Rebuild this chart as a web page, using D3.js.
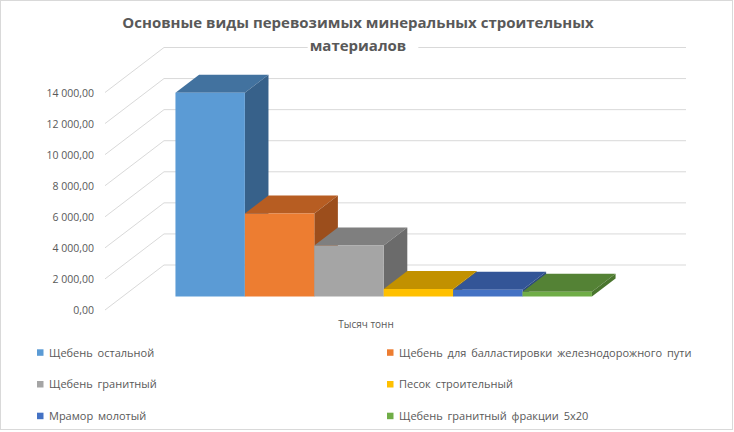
<!DOCTYPE html>
<html>
<head>
<meta charset="utf-8">
<script src="https://cdn.jsdelivr.net/npm/d3@7"></script>
<style>
  body { margin: 0; background: #fff; }
  svg { display: block; font-family: "Open Sans", "Noto Sans", sans-serif; }
</style>
</head>
<body>
<div id="chart"></div>
<script>
// data
var categories = [
  "Щебень остальной",
  "Щебень для балластировки железнодорожного пути",
  "Щебень гранитный",
  "Песок строительный",
  "Мрамор молотый",
  "Щебень гранитный фракции 5х20"
];
var values = [13120, 5350, 3290, 480, 430, 300];
var yTicks = [0, 2000, 4000, 6000, 8000, 10000, 12000, 14000];
var frontColors = ["#5B9BD5", "#ED7D31", "#A5A5A5", "#FFC000", "#4472C4", "#70AD47"];
var topColors   = ["#42729F", "#B75D22", "#7F7F7F", "#C29100", "#335597", "#548235"];
var sideColors  = ["#37618A", "#9C4E1C", "#6B6B6B", "#A37A00", "#2C4A80", "#4A752E"];
var titleLines = ["Основные виды перевозимых минеральных строительных", "материалов"];
var axisTitle = "Тысяч тонн";

var W = 734, H = 432;
var svg = d3.select("#chart").append("svg").attr("width", W).attr("height", H);

// chart frame
svg.append("rect").attr("x", 0.5).attr("y", 0.5).attr("width", W - 2).attr("height", H - 3)
  .attr("fill", "#fff").attr("stroke", "#D9D9D9");

// 3D depth offsets (front plane -> back wall)
var DX = 59, DY = 45;
var barD0 = 0.3, barD1 = 0.7;

var x = d3.scaleBand().domain(categories).range([105, 627]).paddingInner(0).paddingOuter(0.76);
var y = d3.scaleLinear().domain([0, 14000]).range([310, 92.5]);

function P(px, py, d) { return [px + d * DX, py - d * DY]; }

var ru = d3.formatLocale({ decimal: ",", thousands: " ", grouping: [3], currency: ["", ""] });
var fmt = ru.format(",.2f");

// gridlines: side wall diagonal + back wall horizontal
var grid = svg.append("g").attr("stroke", "#D9D9D9").attr("stroke-width", 1).attr("fill", "none");
yTicks.forEach(function(t) {
  var a = P(x.range()[0], y(t), 0), b = P(x.range()[0], y(t), 1), c = P(x.range()[1], y(t), 1);
  grid.append("path").attr("d", d3.line()([a, b, c]));
});

// y labels
svg.append("g").selectAll("text").data(yTicks).enter().append("text")
  .attr("x", 94).attr("y", function(d) { return y(d) + 4; })
  .attr("text-anchor", "end").attr("font-size", 10.5).attr("fill", "#595959")
  .text(function(d) { return fmt(d); });

// bars
var bars = svg.append("g");
categories.forEach(function(c, i) {
  var x0 = x(c), x1 = x(c) + x.bandwidth();
  var yb = y(0), yt = y(values[i]);
  var g = bars.append("g");
  var line = d3.line();
  // top
  g.append("path").attr("fill", topColors[i])
    .attr("d", line([P(x0, yt, barD0), P(x1, yt, barD0), P(x1, yt, barD1), P(x0, yt, barD1)]) + "Z");
  // right side
  g.append("path").attr("fill", sideColors[i])
    .attr("d", line([P(x1, yt, barD0), P(x1, yt, barD1), P(x1, yb, barD1), P(x1, yb, barD0)]) + "Z");
  // front
  g.append("path").attr("fill", frontColors[i])
    .attr("d", line([P(x0, yt, barD0), P(x1, yt, barD0), P(x1, yb, barD0), P(x0, yb, barD0)]) + "Z");
});

// axis title
svg.append("text").attr("x", 366).attr("y", 328).attr("text-anchor", "middle")
  .attr("font-size", 10).attr("fill", "#595959").text(axisTitle);

// chart title
var title = svg.append("g");
var t2 = title.append("text").attr("x", 358).attr("y", 51).attr("text-anchor", "middle")
  .attr("font-size", 15).attr("font-weight", "bold").attr("fill", "#595959").text(titleLines[1]);
var bb = t2.node().getBBox();
title.insert("rect", "text").attr("x", bb.x - 2).attr("y", bb.y).attr("width", bb.width + 14)
  .attr("height", bb.height).attr("fill", "#fff");
title.append("text").attr("x", 358).attr("y", 28).attr("text-anchor", "middle")
  .attr("font-size", 15).attr("font-weight", "bold").attr("fill", "#595959").text(titleLines[0]);

// legend
var legend = svg.append("g");
categories.forEach(function(c, i) {
  var col = i % 2, row = Math.floor(i / 2);
  var lx = col === 0 ? 37 : 387, ly = 352.5 + row * 31.7;
  legend.append("rect").attr("x", lx).attr("y", ly - 3.2).attr("width", 6.5).attr("height", 6.5)
    .attr("fill", frontColors[i]);
  legend.append("text").attr("x", lx + 12).attr("y", ly + 4).attr("font-size", 11)
    .attr("word-spacing", 2).attr("fill", "#595959").text(c);
});
</script>
</body>
</html>
